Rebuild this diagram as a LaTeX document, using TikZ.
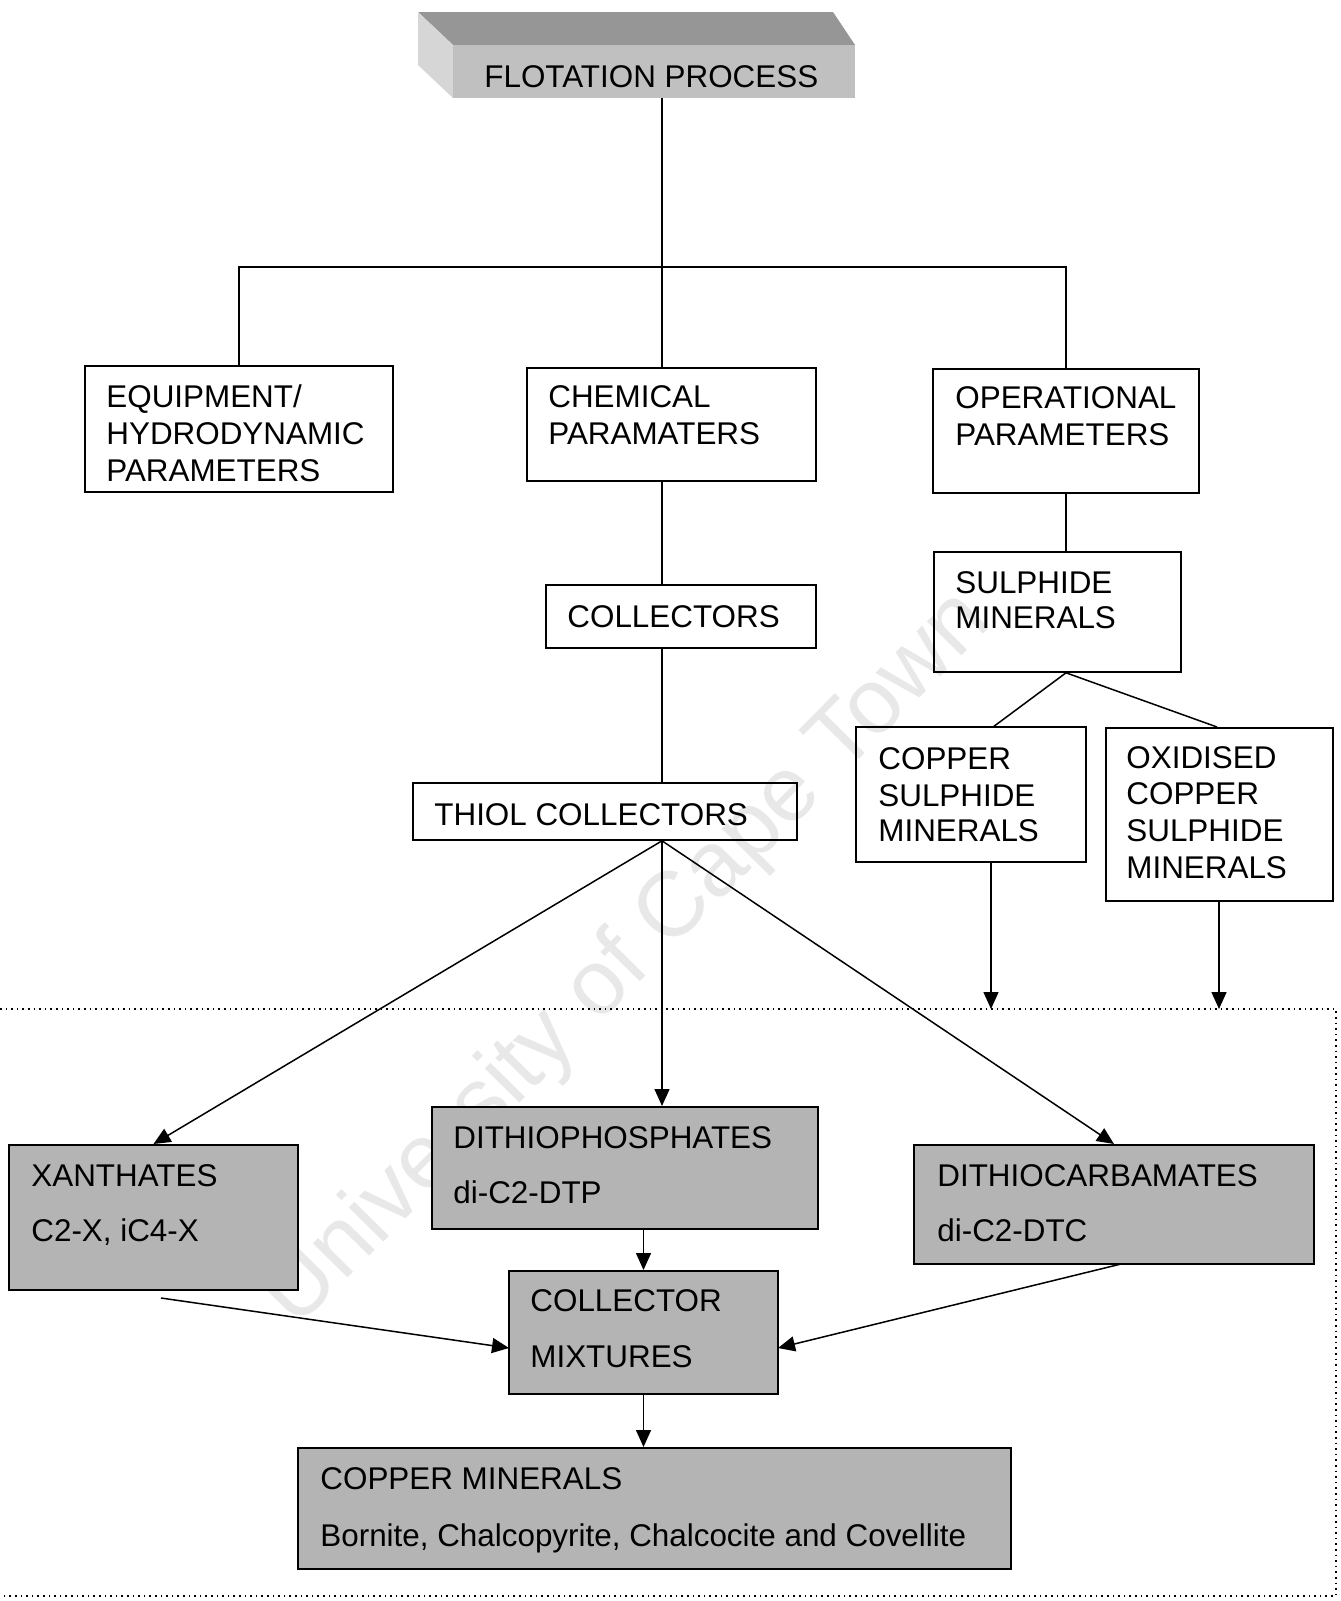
\documentclass[tikz,border=0pt]{standalone}
\usepackage{fontspec}
\setmainfont{Liberation Sans}
\usetikzlibrary{fit,arrows.meta,calc}
\definecolor{boxgray}{RGB}{180,180,180}
\definecolor{topdark}{RGB}{150,150,150}
\definecolor{leftlight}{RGB}{214,214,214}
\definecolor{frontgray}{RGB}{192,192,192}
\begin{document}
\begin{tikzpicture}[x=0.5pt,y=-0.5pt,
 box/.style={draw, line width=0.8pt, inner sep=0pt},
 gbox/.style={draw, line width=1pt, fill=boxgray, inner sep=0pt},
 txt/.style={anchor=base west, inner sep=0pt, font=\fontsize{15.7}{18}\selectfont},
 con/.style={line width=0.75pt},
 arr/.style={con, -{Triangle[length=8.5pt,width=7.5pt]}},
 dotline/.style={line width=0.8pt, dotted}
]
\useasboundingbox (0,0) rectangle (1340,1601);
% watermark
\node[rotate=45.4, inner sep=0pt, text=black!9, font=\fontsize{46}{46}\selectfont] (wm) at (628,960) {University of Cape Town};

% top 3D box
\fill[topdark] (418,12) -- (833,12) -- (855,45) -- (453,45) -- cycle;
\fill[leftlight] (418,12) -- (453,45) -- (453,98) -- (418,65) -- cycle;
\node[fill=frontgray, inner sep=0pt, fit={(453,45) (855,98)}] (fp) {};
\node[txt] (tfp) at (484,87) {FLOTATION PROCESS};

% spine coordinate
\coordinate (sp) at (662,0);

% level 2 boxes
\node[box, fit={(85,366) (393,492)}] (eq) {};
\node[txt] (teq1) at (106,407) {EQUIPMENT/};
\node[txt] (teq2) at (106,444) {HYDRODYNAMIC};
\node[txt] (teq3) at (106,481) {PARAMETERS};

\node[box, fit={(527,368) (816,481)}] (chem) {};
\node[txt] (tch1) at (548,407) {CHEMICAL};
\node[txt] (tch2) at (548,444) {PARAMATERS};

\node[box, fit={(933,369) (1199,493)}] (op) {};
\node[txt] (top1) at (955,408) {OPERATIONAL};
\node[txt] (top2) at (955,445) {PARAMETERS};

% collectors
\node[box, fit={(546,585) (816,648)}] (coll) {};
\node[txt] (tco) at (567,627) {COLLECTORS};

\node[box, fit={(413,783) (797,840)}] (thiol) {};
\node[txt] (tth) at (434,825) {THIOL COLLECTORS};

% sulphide branch
\node[box, fit={(934,552) (1181,672)}] (sul) {};
\node[txt] (tsu1) at (955,593) {SULPHIDE};
\node[txt] (tsu2) at (955,628) {MINERALS};

\node[box, fit={(856,727) (1086,862)}] (cu) {};
\node[txt] (tcu1) at (878,769) {COPPER};
\node[txt] (tcu2) at (878,806) {SULPHIDE};
\node[txt] (tcu3) at (878,841) {MINERALS};

\node[box, fit={(1106,728) (1333,901)}] (ox) {};
\node[txt] (tox1) at (1126,768) {OXIDISED};
\node[txt] (tox2) at (1126,804) {COPPER};
\node[txt] (tox3) at (1126,841) {SULPHIDE};
\node[txt] (tox4) at (1126,878) {MINERALS};

% dotted region
\draw[dotline] (0,1009) -- (1336,1009) -- (1336,1596) -- (0,1596);

% gray boxes
\node[gbox, fit={(9,1145) (298,1290)}] (xan) {};
\node[txt] (txa1) at (31,1186) {XANTHATES};
\node[txt] (txa2) at (31,1241) {C2-X, iC4-X};

\node[gbox, fit={(432,1107) (818,1229)}] (dtp) {};
\node[txt] (tdp1) at (453,1148) {DITHIOPHOSPHATES};
\node[txt] (tdp2) at (453,1203) {di-C2-DTP};

\node[gbox, fit={(914,1145) (1314,1264)}] (dtc) {};
\node[txt] (tdc1) at (937,1186) {DITHIOCARBAMATES};
\node[txt] (tdc2) at (937,1241) {di-C2-DTC};

\node[gbox, fit={(509,1271) (778,1394)}] (mix) {};
\node[txt] (tmx1) at (530,1311) {COLLECTOR};
\node[txt] (tmx2) at (530,1367) {MIXTURES};

\node[gbox, fit={(298,1448) (1011,1569)}] (cm) {};
\node[txt] (tcm1) at (320,1489) {COPPER MINERALS};
\node[txt] (tcm2) at (320,1546) {Bornite, Chalcopyrite, Chalcocite and Covellite};

% connectors top part
\coordinate (j1) at (662,267);
\draw[con] (fp.south -| sp) -- (chem.north -| sp);
\draw[con] (eq.north) -- (eq.north |- j1) -- (op.north |- j1) -- (op.north);
\draw[con] (chem.south -| sp) -- (coll.north -| sp);
\draw[con] (coll.south -| sp) -- (thiol.north -| sp);
\draw[con] (op.south) -- (op.south |- sul.north);
\coordinate (cut) at (993,727);
\coordinate (oxt) at (1217,727);
\draw[con] (sul.south -| op.south) -- (cut);
\draw[con] (sul.south -| op.south) -- (oxt);
\coordinate (a1) at (991,1009);
\coordinate (a2) at (1219,1009);
\draw[arr] (cu.south -| a1) -- (a1);
\draw[arr] (ox.south -| a2) -- (a2);

% thiol arrows
\draw[arr] (thiol.south -| sp) -- (xan.north);
\draw[arr] (thiol.south -| sp) -- (dtp.north -| sp);
\draw[arr] (thiol.south -| sp) -- (dtc.north);

% mixture arrows
\coordinate (xs) at (161,1298);
\coordinate (ml) at (509,1348);
\coordinate (ds) at (1121,1264);
\coordinate (mr) at (778,1348);
\draw[arr] (dtp.south -| mix.north) -- (mix.north);
\draw[arr] (xs) -- (ml);
\draw[arr] (ds) -- (mr);
\draw[arr] (mix.south) -- (mix.south |- cm.north);
\end{tikzpicture}
\end{document}
